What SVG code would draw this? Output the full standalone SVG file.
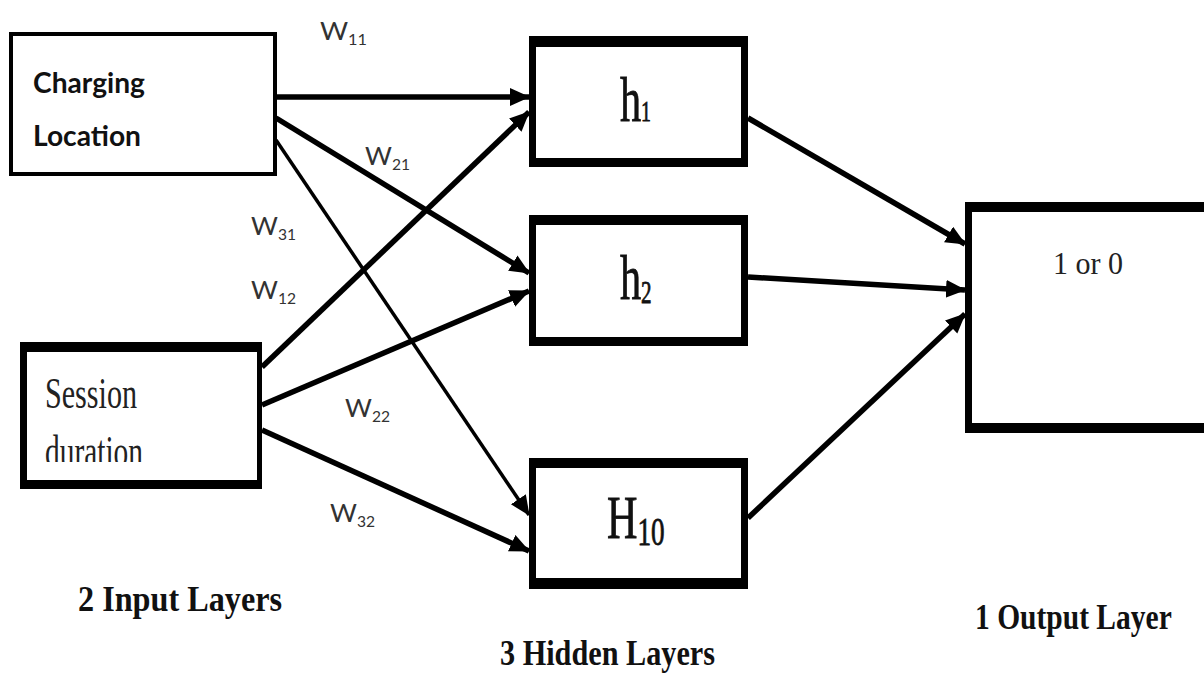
<svg xmlns="http://www.w3.org/2000/svg" width="1204" height="675" viewBox="0 0 1204 675">
<style>
.edge{stroke:#000;stroke-width:5.5;fill:none;marker-end:url(#ah)}
.thin{stroke-width:3.5}
.w{font-family:Lato,"Liberation Sans",sans-serif;font-size:25px;fill:#333}
.w tspan.s{font-size:15px}
.hid{font-family:"Liberation Serif",serif;fill:#111;stroke:#111;stroke-width:0.8}
.cap{font-family:"Liberation Serif",serif;font-weight:bold;font-size:36px;fill:#111}
</style>
<defs>
<marker id="ah" markerUnits="userSpaceOnUse" markerWidth="22" markerHeight="20" refX="19" refY="9" orient="auto">
<path d="M0,0 L20,9 L0,18 Z" fill="#000"/>
</marker>
<clipPath id="clipdur"><rect x="20" y="340" width="240" height="122"/></clipPath>
</defs>

<g id="connectors">
<line class="edge" x1="276" y1="97" x2="529" y2="97"/>
<line class="edge" x1="276" y1="118" x2="529" y2="273"/>
<line class="edge thin" x1="276" y1="140" x2="529" y2="515"/>
<line class="edge" x1="262" y1="367" x2="529" y2="112"/>
<line class="edge" x1="262" y1="405" x2="529" y2="291"/>
<line class="edge" x1="262" y1="430" x2="529" y2="551"/>
<line class="edge" x1="748" y1="118" x2="965" y2="244"/>
<line class="edge" x1="748" y1="277" x2="965" y2="290"/>
<line class="edge" x1="748" y1="518" x2="965" y2="314"/>
</g>

<g id="input1">
<rect x="9" y="32" width="268" height="144" fill="#000"/>
<rect x="13" y="36" width="260" height="136" fill="#fff"/>
<text x="33" y="93" font-family="Lato,'Liberation Sans',sans-serif" font-weight="bold" font-size="28" fill="#111" textLength="112" lengthAdjust="spacingAndGlyphs">Charging</text>
<text x="33" y="146" font-family="Lato,'Liberation Sans',sans-serif" font-weight="bold" font-size="28" fill="#111" textLength="108" lengthAdjust="spacingAndGlyphs">Location</text>
</g>

<g id="input2">
<rect x="20" y="342" width="242" height="147" fill="#000"/>
<rect x="27" y="352" width="230" height="128" fill="#fff"/>
<text x="45" y="408" font-family="'Liberation Serif',serif" font-size="44" fill="#222" textLength="92" lengthAdjust="spacingAndGlyphs">Session</text>
<g clip-path="url(#clipdur)"><text x="45" y="466" font-family="'Liberation Serif',serif" font-size="44" fill="#222" textLength="98" lengthAdjust="spacingAndGlyphs">duration</text></g>
</g>

<g id="h1">
<rect x="529" y="36" width="219" height="131" fill="#000"/>
<rect x="536" y="47" width="205" height="111" fill="#fff"/>
<text class="hid" transform="translate(620,121) scale(0.66,1)" font-size="64">h<tspan font-size="30">1</tspan></text>
</g>

<g id="h2">
<rect x="529" y="215" width="219" height="131" fill="#000"/>
<rect x="536" y="225" width="205" height="112" fill="#fff"/>
<text class="hid" transform="translate(620,299) scale(0.66,1)" font-size="64">h<tspan font-size="32" dy="4">2</tspan></text>
</g>

<g id="h10">
<rect x="529" y="458" width="219" height="131" fill="#000"/>
<rect x="536" y="468" width="205" height="110" fill="#fff"/>
<text class="hid" transform="translate(607,538) scale(0.68,1)" font-size="62">H<tspan font-size="40" dy="7">10</tspan></text>
</g>

<g id="output">
<rect x="965" y="202" width="245" height="231" fill="#000"/>
<rect x="972" y="212" width="238" height="211" fill="#fff"/>
<text x="1053" y="274" font-family="'Liberation Serif',serif" font-size="32" fill="#222" textLength="70" lengthAdjust="spacingAndGlyphs">1 or 0</text>
</g>

<g id="weights">
<text class="w" x="320" y="40" textLength="47" lengthAdjust="spacingAndGlyphs">W<tspan class="s" dy="5">11</tspan></text>
<text class="w" x="365" y="165" textLength="45" lengthAdjust="spacingAndGlyphs">W<tspan class="s" dy="5">21</tspan></text>
<text class="w" x="251" y="235" textLength="45" lengthAdjust="spacingAndGlyphs">W<tspan class="s" dy="5">31</tspan></text>
<text class="w" x="251" y="299" textLength="45" lengthAdjust="spacingAndGlyphs">W<tspan class="s" dy="5">12</tspan></text>
<text class="w" x="345" y="417" textLength="45" lengthAdjust="spacingAndGlyphs">W<tspan class="s" dy="5">22</tspan></text>
<text class="w" x="330" y="522" textLength="45" lengthAdjust="spacingAndGlyphs">W<tspan class="s" dy="5">32</tspan></text>
</g>

<g id="captions">
<text class="cap" x="78" y="611" textLength="204" lengthAdjust="spacingAndGlyphs">2 Input Layers</text>
<text class="cap" x="500" y="665" textLength="215" lengthAdjust="spacingAndGlyphs" font-size="34">3 Hidden Layers</text>
<text class="cap" transform="translate(975,629) scale(0.82,1)" font-size="33">1 Output Layer</text>
</g>
</svg>
